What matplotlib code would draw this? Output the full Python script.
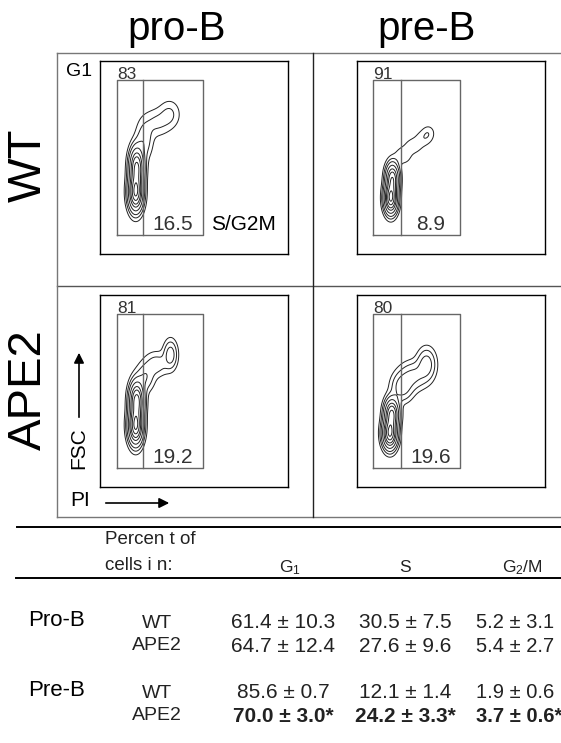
import matplotlib
matplotlib.use('Agg')
import matplotlib.pyplot as plt
from matplotlib.lines import Line2D
from matplotlib.patches import FancyArrowPatch
import numpy as np

plt.rcParams['font.family'] = ['Liberation Sans', 'DejaVu Sans']
plt.rcParams['mathtext.fontset'] = 'custom'
plt.rcParams['mathtext.rm'] = 'Liberation Sans'
plt.rcParams['mathtext.it'] = 'Liberation Sans'

W, H = 561, 743

# ---- data ----
columns = ['pro-B', 'pre-B']
rows = ['WT', 'APE2']
g1_pct = [['83', '91'], ['81', '80']]
sg2m_pct = [['16.5', '8.9'], ['19.2', '19.6']]

# gate edges (x: left, G1/S split, right; y: bottom, top) in channel units 0-1000
gate_x = [[90, 229, 548], [85, 234, 548]]
gate_y = [98, 902]

# density blobs for each contour panel: centre x, centre y, sd x, sd y, weight
wt_pro_cx = [190, 195, 235, 300, 370]
wt_pro_cy = [320, 450, 590, 680, 725]
wt_pro_sx = [22, 22, 28, 45, 35]
wt_pro_sy = [55, 58, 60, 45, 45]
wt_pro_w = [1.0, 0.8, 0.09, 0.06, 0.06]

wt_pre_cx = [180, 188, 245, 300, 355, 380]
wt_pre_cy = [290, 390, 510, 560, 600, 630]
wt_pre_sx = [20, 20, 30, 32, 30, 22]
wt_pre_sy = [45, 45, 30, 28, 28, 25]
wt_pre_w = [1.0, 0.7, 0.045, 0.04, 0.04, 0.035]

ape_pro_cx = [190, 195, 240, 300, 375]
ape_pro_cy = [320, 450, 570, 640, 690]
ape_pro_sx = [22, 22, 30, 40, 22]
ape_pro_sy = [55, 55, 45, 40, 45]
ape_pro_w = [1.0, 0.85, 0.1, 0.08, 0.15]

ape_pre_cx = [175, 185, 240, 300, 370]
ape_pre_cy = [280, 380, 520, 580, 640]
ape_pre_sx = [22, 22, 35, 45, 30]
ape_pre_sy = [45, 45, 45, 45, 50]
ape_pre_w = [1.0, 0.8, 0.15, 0.12, 0.15]

level_frac = [0.02, 0.05, 0.1, 0.2, 0.35, 0.5, 0.7, 0.9]

# table
table_groups = ['Pro-B', 'Pre-B']
table_geno = ['WT', 'APE2']
g1_vals = [['61.4 ± 10.3', '64.7 ± 12.4'], ['85.6 ± 0.7', '70.0 ± 3.0*']]
s_vals = [['30.5 ± 7.5', '27.6 ± 9.6'], ['12.1 ± 1.4', '24.2 ± 3.3*']]
g2m_vals = [['5.2 ± 3.1', '5.4 ± 2.7'], ['1.9 ± 0.6', '3.7 ± 0.6*']]
bold_cells = [[False, False], [False, True]]

blobs = [[(wt_pro_cx, wt_pro_cy, wt_pro_sx, wt_pro_sy, wt_pro_w),
          (wt_pre_cx, wt_pre_cy, wt_pre_sx, wt_pre_sy, wt_pre_w)],
         [(ape_pro_cx, ape_pro_cy, ape_pro_sx, ape_pro_sy, ape_pro_w),
          (ape_pre_cx, ape_pre_cy, ape_pre_sx, ape_pre_sy, ape_pre_w)]]

# pixel boxes of the four plots (left, top, right, bottom)
boxes = [[(100, 61, 288, 254), (357, 61, 545, 254)],
         [(100, 295, 288, 487), (357, 295, 545, 487)]]


def fx(x):
    return x / W


def fy(y):
    return 1 - y / H


def hline(fig, y, x0, x1, color='k', lw=1.0):
    fig.add_artist(Line2D([fx(x0), fx(x1)], [fy(y), fy(y)], color=color, lw=lw))


def vline(fig, x, y0, y1, color='k', lw=1.0):
    fig.add_artist(Line2D([fx(x), fx(x)], [fy(y0), fy(y1)], color=color, lw=lw))


def arrow(fig, p0, p1):
    fig.add_artist(FancyArrowPatch((fx(p0[0]), fy(p0[1])), (fx(p1[0]), fy(p1[1])),
                                   transform=fig.transFigure, arrowstyle='-|>',
                                   mutation_scale=15, lw=1.2, color='k'))


fig = plt.figure(figsize=(W / 100, H / 100), dpi=100)

gx, gy = np.meshgrid(np.linspace(0, 1000, 400), np.linspace(0, 1000, 400))

for r in range(2):
    for c in range(2):
        l, t, rr, b = boxes[r][c]
        ax = fig.add_axes([fx(l), fy(b), (rr - l) / W, (b - t) / H])
        cx, cy, sx, sy, w = blobs[r][c]
        z = np.zeros_like(gx)
        for i in range(len(cx)):
            z += w[i] * np.exp(-0.5 * (((gx - cx[i]) / sx[i]) ** 2 + ((gy - cy[i]) / sy[i]) ** 2))
        ax.contour(gx, gy, z, levels=np.array(level_frac) * z.max(),
                   colors='#222222', linewidths=0.7)
        x0, xm, x1 = gate_x[c]
        ax.plot([x0, x1, x1, x0, x0], [gate_y[0], gate_y[0], gate_y[1], gate_y[1], gate_y[0]],
                color='#666666', lw=1.0)
        ax.plot([xm, xm], gate_y, color='#666666', lw=1.0)
        ax.text(x0, gate_y[1] + 5, g1_pct[r][c], fontsize=12.5, ha='left', va='baseline', color='#333333')
        ax.text((xm + x1) / 2, 125, sg2m_pct[r][c], fontsize=15, ha='center', va='baseline', color='#333333')
        ax.set_xlim(0, 1000)
        ax.set_ylim(0, 1000)
        ax.set_xticks([])
        ax.set_yticks([])
        for s in ax.spines.values():
            s.set_linewidth(1.0)
        if r == 0 and c == 0:
            ax.text(590, 125, 'S/G2M', fontsize=15, ha='left', va='baseline')

# outer frame of the panel grid
hline(fig, 53, 57, 561, color='#777777')
hline(fig, 286, 57, 561, color='#555555')
hline(fig, 517, 57, 561, color='#777777')
vline(fig, 57, 53, 517, color='#777777')
vline(fig, 313, 53, 517, color='#222222')

fig.text(fx(177), fy(29), columns[0], fontsize=29, ha='center', va='center')
fig.text(fx(427), fy(29), columns[1], fontsize=29, ha='center', va='center')
fig.text(fx(29), fy(165), rows[0], fontsize=34, rotation=90, ha='center', va='center')
fig.text(fx(29), fy(390), rows[1], fontsize=34, rotation=90, ha='center', va='center')
fig.text(fx(66), fy(72), 'G1', fontsize=14, ha='left', va='center')

# axis arrows
fig.text(fx(79), fy(448), 'FSC', fontsize=15, rotation=90, ha='center', va='center')
arrow(fig, (79, 420), (79, 350))
fig.text(fx(70), fy(501), 'PI', fontsize=15, ha='left', va='center')
arrow(fig, (103, 503), (172, 503))

# table
hline(fig, 527, 17, 561, lw=1.4)
hline(fig, 578, 16, 561, lw=1.4)
fig.text(fx(105), fy(539), 'Percen t of', fontsize=13.5, ha='left', va='center', color='#222222')
fig.text(fx(105), fy(566), 'cells i n:', fontsize=13.5, ha='left', va='center', color='#222222')
fig.text(fx(290), fy(568), 'G$_1$', fontsize=12.5, ha='center', va='center', color='#222222')
fig.text(fx(405), fy(568), 'S', fontsize=12.5, ha='center', va='center', color='#222222')
fig.text(fx(522), fy(568), 'G$_2$/M', fontsize=12.5, ha='center', va='center', color='#222222')

row_y = [[623, 646], [693, 716]]
for g in range(2):
    fig.text(fx(28), fy(row_y[g][0] - 3), table_groups[g], fontsize=16, ha='left', va='center')
    for k in range(2):
        y = row_y[g][k]
        wt = 'bold' if bold_cells[g][k] else 'normal'
        fig.text(fx(157), fy(y), table_geno[k], fontsize=14, ha='center', va='center', color='#222222')
        fig.text(fx(283), fy(y), g1_vals[g][k], fontsize=15, ha='center', va='center', fontweight=wt, color='#222222')
        fig.text(fx(405), fy(y), s_vals[g][k], fontsize=15, ha='center', va='center', fontweight=wt, color='#222222')
        fig.text(fx(476), fy(y), g2m_vals[g][k], fontsize=14.5, ha='left', va='center', fontweight=wt, color='#222222')

fig.savefig('out.png', dpi=100)
